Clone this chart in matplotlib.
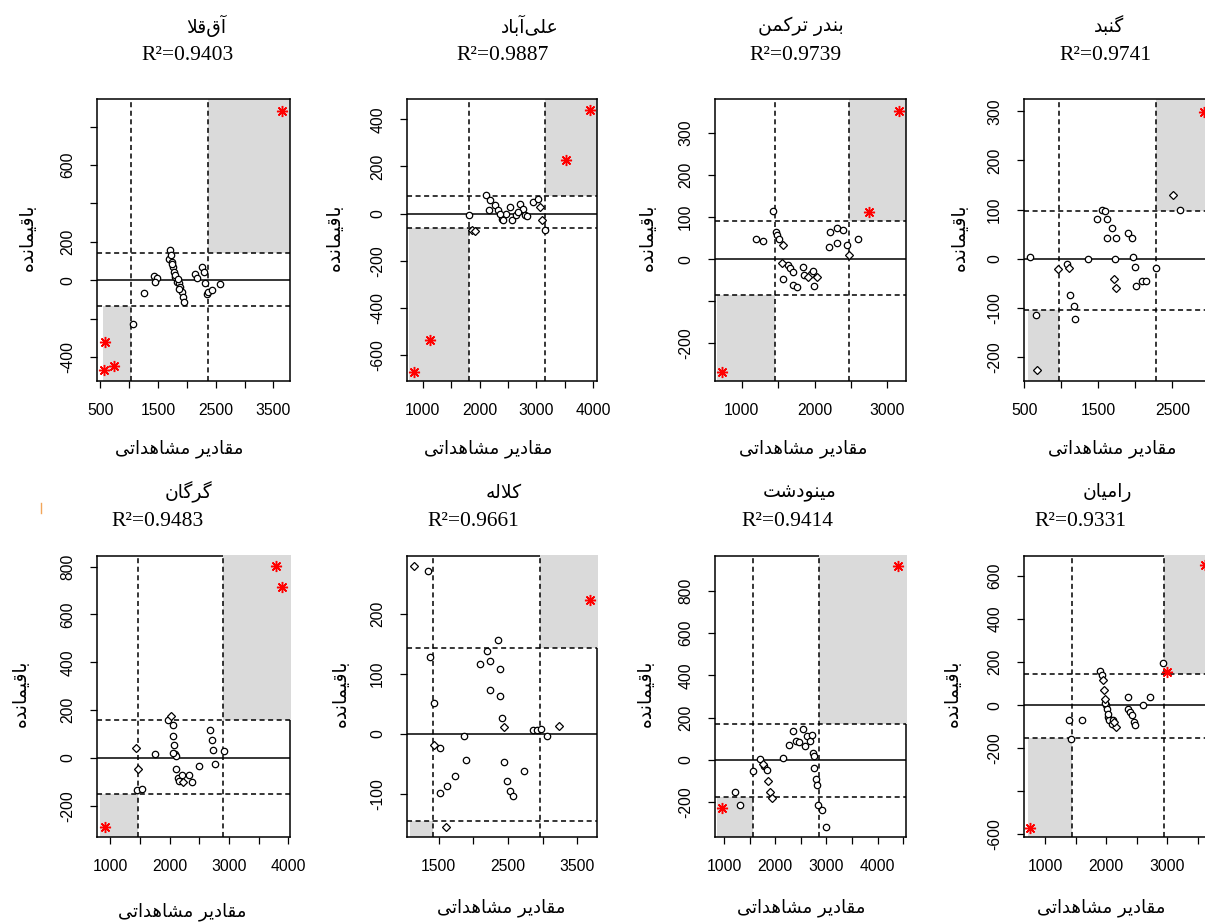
import numpy as np
import matplotlib
matplotlib.use('Agg')
import matplotlib.pyplot as plt
from matplotlib.patches import Rectangle
from matplotlib.lines import Line2D

W, H = 1205, 922

names = ['آق\u200cقلا', 'علی\u200cآباد', 'بندر ترکمن', 'گنبد',
         'گرگان', 'کلاله', 'مینودشت', 'رامیان']
r2 = ['0.9403', '0.9887', '0.9739', '0.9741', '0.9483', '0.9661', '0.9414', '0.9331']

aq_x = [1262, 1435, 1481, 1452, 1060, 1683, 1712, 1723, 1741, 1758, 1770, 1798, 1827, 1856, 1885,
        1914, 1931, 1954, 1750, 1790, 1840, 1870, 2144, 2173, 2260, 2300, 2318, 2346, 2375, 2433, 2577]
aq_y = [-66, 21, 9, -9, -230, 113, 160, 130, 96, 70, 43, 17, -9, -17, -35,
        -61, -87, -113, 85, 25, 5, -45, 31, 9, 70, 43, -14, -70, -61, -49, -21]
aq_grp = [0] * 31
aq_ox = [3645, 587, 731, 569]
aq_oy = [882, -322, -447, -470]

al_x = [1815, 1861, 1920, 2113, 2184, 2172, 2271, 2330, 2389, 2418, 2465, 2535, 2565, 2641, 2711,
        2758, 2799, 2828, 2945, 3033, 3063, 3104, 3150, 2360, 2682]
al_y = [-4, -71, -73, 78, 59, 14, 38, 17, -21, -28, 0, 28, -28, -7, 42,
        21, -7, -11, 49, 64, 28, -28, -68, 0, 7]
al_grp = [0, 1, 1, 0, 0, 0, 0, 0, 0, 0, 0, 0, 0, 0, 0, 0, 0, 0, 0, 0, 1, 1, 0, 0, 0]
al_ox = [3953, 3532, 1129, 836]
al_oy = [438, 226, -537, -671]

bt_x = [1435, 1197, 1297, 1467, 1481, 1517, 1563, 1549, 1641, 1664, 1700, 1572, 1709, 1755, 1838,
        1856, 1915, 1947, 1984, 2039, 1993, 2204, 2213, 2314, 2387, 2314, 2442, 2478, 2602]
bt_y = [115, 49, 44, 65, 57, 47, 33, -10, -14, -22, -30, -48, -62, -67, -18,
        -38, -42, -34, -28, -43, -64, 29, 65, 73, 70, 39, 33, 11, 47]
bt_grp = [0, 0, 0, 0, 0, 0, 1, 1, 0, 0, 0, 0, 0, 0, 0, 0, 1, 0, 0, 1, 0, 0, 0, 0, 0, 0, 0, 1, 0]
bt_ox = [3160, 2753, 725]
bt_oy = [351, 112, -267]

gb_x = [577, 654, 667, 953, 1075, 1106, 1120, 1165, 1188, 1360, 1482, 1550, 1586, 1618, 1686,
        1618, 1731, 1722, 1709, 1740, 1903, 1948, 1971, 1993, 2011, 2093, 2138, 2283, 2514, 2600]
gb_y = [3, -115, -227, -22, -10, -20, -73, -97, -122, 0, 81, 100, 97, 81, 62,
        43, 43, 0, -41, -59, 52, 43, 3, -16, -56, -46, -46, -19, 130, 100]
gb_grp = [0, 0, 1, 1, 0, 1, 0, 0, 0, 0, 0, 0, 0, 0, 0, 0, 0, 0, 1, 1, 0, 0, 0, 0, 0, 0, 0, 0, 1, 0]
gb_ox = [2930]
gb_oy = [298]

gr_x = [1437, 1460, 1449, 1533, 1757, 1970, 2021, 2054, 2054, 2077, 2082, 2110, 2110, 2133, 2166,
        2206, 2222, 2318, 2374, 2503, 2682, 2710, 2738, 2766, 2923, 2065]
gr_y = [42, -46, -132, -129, 18, 157, 177, 139, 93, 56, 18, 7, -46, -83, -97,
        -70, -102, -70, -102, -32, 118, 74, 35, -24, 31, 21]
gr_grp = [1, 1, 0, 0, 0, 0, 1, 0, 0, 0, 0, 0, 0, 0, 0, 0, 1, 0, 0, 0, 0, 0, 0, 0, 0, 0]
gr_ox = [3793, 3888, 916]
gr_oy = [803, 714, -288]

kl_x = [1141, 1342, 1380, 1428, 1428, 1524, 1610, 1524, 1620, 1739, 1868, 1897, 2098, 2194, 2242,
        2361, 2385, 2242, 2385, 2409, 2443, 2443, 2490, 2529, 2576, 2729, 2864, 2921, 2969, 3064, 3237]
kl_y = [281, 272, 129, 52, -19, -23, -155, -98, -87, -71, -3, -44, 117, 138, 121,
        156, 108, 74, 64, 27, 11, -47, -79, -96, -104, -62, 6, 6, 8, -4, 14]
kl_grp = [1, 0, 0, 0, 1, 0, 1, 0, 0, 0, 0, 0, 0, 0, 0, 0, 0, 0, 0, 0, 1, 0, 0, 0, 0, 0, 0, 0, 0, 0, 1]
kl_ox = [3677]
kl_oy = [223]

mn_x = [1215, 1312, 1573, 1703, 1755, 1787, 1833, 1866, 1898, 1931, 2145, 2275, 2353, 2405, 2470,
        2535, 2581, 2626, 2678, 2711, 2743, 2763, 2796, 2809, 2841, 2906, 2991, 2757]
mn_y = [-150, -213, -55, 3, -19, -31, -50, -102, -150, -181, 8, 71, 134, 87, 82,
        145, 66, 113, 87, 118, 31, -39, -91, -118, -213, -239, -318, 16]
mn_grp = [0, 0, 0, 0, 1, 0, 0, 1, 1, 1, 0, 0, 0, 0, 0, 0, 0, 0, 0, 0, 0, 0, 0, 0, 0, 0, 0, 0]
mn_ox = [4403, 954]
mn_oy = [917, -228]

rm_x = [2935, 1392, 1600, 1425, 1899, 1926, 1954, 1970, 1981, 1997, 2008, 2024, 2046, 2090, 2117,
        2155, 2133, 2352, 2363, 2390, 2417, 2461, 2472, 2608, 2717, 1981, 2035]
rm_y = [197, -67, -67, -155, 160, 140, 116, 70, 31, 0, -16, -54, -70, -85, -67,
        -101, -78, 36, -16, -31, -47, -78, -93, 0, 36, 8, -39]
rm_grp = [0, 0, 0, 0, 0, 0, 1, 1, 1, 0, 0, 0, 0, 0, 0, 1, 1, 0, 0, 0, 0, 0, 0, 0, 0, 0, 0]
rm_ox = [3000, 755, 3616]
rm_oy = [152, -569, 651]

# outlier thresholds: vertical (low, high) and horizontal (low, high)
v_low = [1031, 1809, 1458, 962, 1460, 1414, 1560, 1436]
v_high = [2364, 3162, 2478, 2283, 2895, 2959, 2861, 2951]
h_low = [-132, -59, -86, -104, -149, -146, -178, -150]
h_high = [143, 73, 90, 98, 157, 143, 170, 143]
shade_x0 = [540, 748, 666, 554, 832, 1093, 870, 728]

xlims = [(442, 3789), (719, 4071), (634, 3256), (495, 3102),
         (776, 4028), (1045, 3782), (824, 4553), (657, 3812)]
ylims = [(-525, 944), (-709, 486), (-289, 380), (-249, 325),
         (-330, 844), (-172, 297), (-365, 964), (-612, 693)]
xticks = [range(500, 3501, 500), range(1000, 4001, 500), range(1000, 3001, 500), range(500, 3001, 500),
          range(1000, 4001, 500), range(1500, 3501, 500), range(1000, 4501, 500), range(1000, 3501, 500)]
xlab = [[500, 1500, 2500, 3500], [1000, 2000, 3000, 4000], [1000, 2000, 3000], [500, 1500, 2500],
        [1000, 2000, 3000, 4000], [1500, 2500, 3500], [1000, 2000, 3000, 4000], [1000, 2000, 3000]]
yticks = [range(-400, 801, 200), range(-600, 401, 200), range(-200, 301, 100), range(-200, 301, 100),
          range(-200, 801, 200), range(-100, 201, 100), range(-200, 801, 200), range(-600, 601, 200)]
ylab = [[-400, 0, 200, 600], [-600, -400, -200, 0, 200, 400], [-200, 0, 100, 200, 300],
        [-200, -100, 0, 100, 200, 300], [-200, 0, 200, 400, 600, 800], [-100, 0, 100, 200],
        [-200, 0, 200, 400, 600, 800], [-600, -200, 0, 200, 400, 600]]

pts_x = [aq_x, al_x, bt_x, gb_x, gr_x, kl_x, mn_x, rm_x]
pts_y = [aq_y, al_y, bt_y, gb_y, gr_y, kl_y, mn_y, rm_y]
pts_g = [aq_grp, al_grp, bt_grp, gb_grp, gr_grp, kl_grp, mn_grp, rm_grp]
out_x = [aq_ox, al_ox, bt_ox, gb_ox, gr_ox, kl_ox, mn_ox, rm_ox]
out_y = [aq_oy, al_oy, bt_oy, gb_oy, gr_oy, kl_oy, mn_oy, rm_oy]

# ---- simple Persian shaping (matplotlib has no complex text layout) ----
FORMS = {
    '\u0622': ('\uFE81', '\uFE82', None, None),
    '\u0627': ('\uFE8D', '\uFE8E', None, None),
    '\u0628': ('\uFE8F', '\uFE90', '\uFE91', '\uFE92'),
    '\u062A': ('\uFE95', '\uFE96', '\uFE97', '\uFE98'),
    '\u062F': ('\uFEA9', '\uFEAA', None, None),
    '\u0631': ('\uFEAD', '\uFEAE', None, None),
    '\u0634': ('\uFEB5', '\uFEB6', '\uFEB7', '\uFEB8'),
    '\u0639': ('\uFEC9', '\uFECA', '\uFECB', '\uFECC'),
    '\u0642': ('\uFED5', '\uFED6', '\uFED7', '\uFED8'),
    '\u0644': ('\uFEDD', '\uFEDE', '\uFEDF', '\uFEE0'),
    '\u0645': ('\uFEE1', '\uFEE2', '\uFEE3', '\uFEE4'),
    '\u0646': ('\uFEE5', '\uFEE6', '\uFEE7', '\uFEE8'),
    '\u0647': ('\uFEE9', '\uFEEA', '\uFEEB', '\uFEEC'),
    '\u0648': ('\uFEED', '\uFEEE', None, None),
    '\u06A9': ('\uFB8E', '\uFB8F', '\uFB90', '\uFB91'),
    '\u06AF': ('\uFB92', '\uFB93', '\uFB94', '\uFB95'),
    '\u06CC': ('\uFBFC', '\uFBFD', '\uFBFE', '\uFBFF'),
}
LAM_ALEF = {'\u0627': ('\uFEFB', '\uFEFC'), '\u0622': ('\uFEF5', '\uFEF6')}


def dual(c):
    return c in FORMS and FORMS[c][2] is not None


def fa(s):
    s = s.replace('\u064A', '\u06CC').replace('\u0643', '\u06A9')
    out = []
    i = 0
    while i < len(s):
        c = s[i]
        if c not in FORMS:
            if c != '\u200c':
                out.append(c)
            i += 1
            continue
        prev = s[i - 1] if i > 0 else ''
        jp = dual(prev)
        if c == '\u0644' and i + 1 < len(s) and s[i + 1] in LAM_ALEF:
            out.append(LAM_ALEF[s[i + 1]][1 if jp else 0])
            i += 2
            continue
        nxt = s[i + 1] if i + 1 < len(s) else ''
        jn = dual(c) and nxt in FORMS
        iso, fin, ini, med = FORMS[c]
        if jp and jn:
            out.append(med)
        elif jp:
            out.append(fin)
        elif jn:
            out.append(ini)
        else:
            out.append(iso)
        i += 1
    return ''.join(reversed(out))


# ---- layout (pixels of the 1205x922 picture) ----
box_l = [97, 407, 715, 1024] * 2
box_w = [193, 190, 191, 193] * 2
box_t = [99] * 4 + [556] * 4
box_h = [282] * 4 + [281] * 4
name_xy = [(206, 26), (530, 26), (801, 26), (1109, 26), (188, 492), (504, 492), (800, 492), (1107, 492)]
r2_xy = [(188, 56), (503, 56), (796, 56), (1105, 56), (158, 521), (473, 521), (787, 521), (1080, 521)]
xl_xy = [(179, 449), (488, 449), (803, 449), (1112, 449), (182, 912), (501, 908), (801, 908), (1101, 908)]
yl_xy = [(27, 237), (334, 237), (647, 237), (959, 237), (20, 693), (340, 693), (645, 693), (952, 693)]

FA = ['DejaVu Sans']
plt.rcParams['font.family'] = ['Liberation Sans', 'DejaVu Sans']

fig = plt.figure(figsize=(W / 100, H / 100), dpi=100)
fig.patch.set_facecolor('white')

for k in range(8):
    ax = fig.add_axes([box_l[k] / W, 1 - (box_t[k] + box_h[k]) / H, box_w[k] / W, box_h[k] / H])
    x0, x1 = xlims[k]
    y0, y1 = ylims[k]
    ax.set_xlim(x0, x1)
    ax.set_ylim(y0, y1)
    over = k >= 4
    ex = (x1 - x0) * 0.006
    ey = (y1 - y0) * 0.004
    ax.add_patch(Rectangle((v_high[k], h_high[k]), x1 + ex - v_high[k], y1 + ey - h_high[k],
                           facecolor='#dadada', edgecolor='none', zorder=3 if over else 1,
                           clip_on=not over))
    ax.add_patch(Rectangle((shade_x0[k], y0), v_low[k] - shade_x0[k], h_low[k] - y0,
                           facecolor='#dadada', edgecolor='none', zorder=1))
    for v in (v_low[k], v_high[k]):
        ax.axvline(v, color='black', lw=1.1, ls=(0, (3.3, 2.3)), zorder=4)
    for h in (h_low[k], h_high[k]):
        ax.axhline(h, color='black', lw=1.1, ls=(0, (3.3, 2.3)), zorder=4)
    ax.axhline(0, color='black', lw=1.1, zorder=4)

    gx = np.array(pts_x[k])
    gy = np.array(pts_y[k])
    gg = np.array(pts_g[k])
    ax.plot(gx[gg == 0], gy[gg == 0], ls='none', marker='o', ms=4.6, mfc='white',
            mec='black', mew=0.9, zorder=5)
    ax.plot(gx[gg == 1], gy[gg == 1], ls='none', marker='D', ms=4.0, mfc='white',
            mec='black', mew=0.9, zorder=5)
    ax.plot(out_x[k], out_y[k], ls='none', marker=(8, 2, 0), ms=8, mec='red',
            mew=1.05, zorder=6)

    ax.set_xticks(list(xticks[k]))
    ax.set_xticklabels([str(t) if t in xlab[k] else '' for t in xticks[k]])
    ax.set_yticks(list(yticks[k]))
    ax.set_yticklabels([str(t) if t in ylab[k] else '' for t in yticks[k]])
    ax.tick_params(direction='out', length=5.2, width=0.9, pad=10.5, labelsize=11.3, colors='black')
    ax.tick_params(axis='y', labelrotation=90)
    for lab in ax.get_yticklabels():
        lab.set_va('center')
    for sp in ax.spines.values():
        sp.set_linewidth(1.1)
        sp.set_zorder(2.5)

    fig.text(name_xy[k][0] / W, 1 - name_xy[k][1] / H, fa(names[k]), family=FA,
             fontsize=13.5, ha='center', va='center')
    fig.text(r2_xy[k][0] / W, 1 - r2_xy[k][1] / H, 'R\u00b2=' + r2[k], family=['Liberation Serif'],
             fontsize=15.5, ha='center', va='center')
    fig.text(xl_xy[k][0] / W, 1 - xl_xy[k][1] / H, fa('مقادیر مشاهداتی'), family=FA,
             fontsize=13, ha='center', va='center')
    fig.text(yl_xy[k][0] / W, 1 - yl_xy[k][1] / H, fa('باقیمانده'), family=FA,
             fontsize=13.5, ha='center', va='center', rotation=90)

fig.add_artist(Line2D([41 / W, 41 / W], [1 - 503 / H, 1 - 513 / H], color='#f2a65a', lw=1.0))

fig.savefig('out.png', dpi=100)
